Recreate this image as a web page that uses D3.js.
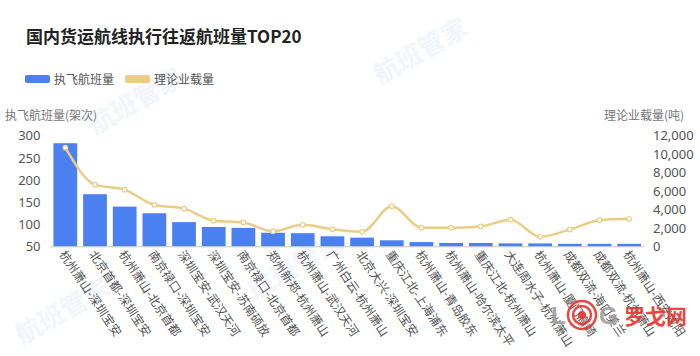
<!DOCTYPE html>
<html><head><meta charset="utf-8">
<script src="https://cdn.jsdelivr.net/npm/d3@7"></script>
<style>
html,body{margin:0;padding:0;background:#fff;}
svg{display:block;font-family:"Noto Sans CJK SC","Noto Sans",sans-serif;}
</style></head>
<body>
<svg id="c" width="700" height="356"></svg>
<script>
const categories = ["杭州萧山-深圳宝安","北京首都-深圳宝安","杭州萧山-北京首都","南京禄口-深圳宝安","深圳宝安-武汉天河","深圳宝安-苏南硕放","南京禄口-北京首都","郑州新郑-杭州萧山","杭州萧山-武汉天河","广州白云-杭州萧山","北京大兴-深圳宝安","重庆江北-上海浦东","杭州萧山-青岛胶东","杭州萧山-哈尔滨太平","重庆江北-杭州萧山","大连周水子-杭州萧山","杭州萧山-厦门高崎","成都双流-海口美兰","成都双流-杭州萧山","杭州萧山-西安咸阳"];
const flights = [283,168,140,125,105,94,92,81,80,73,70,64,60,58,58,57,57,56,56,56];
const tonnage = [10700,6700,6150,4500,4100,2800,2600,1650,2350,1880,1600,4370,2030,2030,2170,2900,1050,1840,2850,3000];
const leftTicks = [50,100,150,200,250,300];
const rightTicks = [0,2000,4000,6000,8000,10000,12000];
const seriesNames = ["执飞航班量","理论业载量"];
const title = "国内货运航线执行往返航班量TOP20";

const svg = d3.select("#c");
const barColor = "#4a80f0", lineColor = "#ebcd86";

// faint watermarks
const wm = [[95,135],[22,345],[255,300],[380,85]];
wm.forEach(([x,y])=>{
  svg.append("text").attr("transform",`translate(${x},${y}) rotate(-30)`)
    .attr("font-size",26).attr("font-weight","bold").attr("fill","#f2f5fb").text("航班管家");
});

const x = d3.scaleBand().domain(categories).range([50.5,644]).paddingInner(0.2).paddingOuter(0.1);
const yL = d3.scaleLinear().domain([50,300]).range([246.5,135.7]);
const yR = d3.scaleLinear().domain([0,12000]).range([246.5,135.7]);

// title
svg.append("text").attr("x",26).attr("y",43).attr("font-size",17).attr("font-weight","bold")
  .attr("fill","#222").text(title);

// legend
const lg = [[25,barColor,seriesNames[0]],[125,lineColor,seriesNames[1]]];
lg.forEach(([lx,col,name])=>{
  svg.append("rect").attr("x",lx).attr("y",75).attr("width",25).attr("height",8).attr("rx",2).attr("fill",col);
  svg.append("text").attr("x",lx+29).attr("y",83.5).attr("font-size",12).attr("fill","#555").text(name);
});

// axis names
svg.append("text").attr("x",5).attr("y",119.5).attr("font-size",12).attr("fill","#777").text("执飞航班量(架次)");
svg.append("text").attr("x",604).attr("y",119.5).attr("font-size",12).attr("fill","#777").text("理论业载量(吨)");

// left axis
const gL = svg.append("g").attr("transform","translate(50.5,0)")
  .call(d3.axisLeft(yL).tickValues(leftTicks).tickSize(0).tickPadding(10));
gL.select(".domain").remove();
gL.selectAll("text").attr("font-size",13).attr("fill","#555").attr("font-family","'Noto Sans',sans-serif").attr("x",-10);

// right axis
const gR = svg.append("g").attr("transform","translate(644,0)")
  .call(d3.axisRight(yR).tickValues(rightTicks).tickSize(0).tickPadding(9).tickFormat(d3.format(",")));
gR.select(".domain").remove();
gR.selectAll("text").attr("font-size",13).attr("fill","#555").attr("font-family","'Noto Sans',sans-serif");

// bars
svg.append("g").selectAll("rect").data(flights).join("rect")
  .attr("x",(d,i)=>x(categories[i])).attr("width",x.bandwidth())
  .attr("y",d=>yL(d)).attr("height",d=>yL(50)-yL(d)).attr("fill",barColor);

// bottom axis line
svg.append("line").attr("x1",50.5).attr("x2",644).attr("y1",246.8).attr("y2",246.8).attr("stroke","#c8c8c8").attr("stroke-width",1);

// x labels
svg.append("g").selectAll("text").data(categories).join("text")
  .attr("transform",d=>`translate(${x(d)+x.bandwidth()/2-3},${252}) rotate(56)`)
  .attr("font-size",12).attr("fill","#555").attr("dy","0.35em").text(d=>d);

// line
const line = d3.line().x((d,i)=>x(categories[i])+x.bandwidth()/2).y(d=>yR(d)).curve(d3.curveMonotoneX);
svg.append("path").datum(tonnage).attr("d",line).attr("fill","none").attr("stroke",lineColor).attr("stroke-width",2.5);
svg.append("g").selectAll("circle").data(tonnage).join("circle")
  .attr("cx",(d,i)=>x(categories[i])+x.bandwidth()/2).attr("cy",d=>yR(d)).attr("r",2.3)
  .attr("fill","#fff").attr("stroke",lineColor).attr("stroke-width",1.2);

// logo
const lgG = svg.append("g").attr("opacity",0.9);
lgG.append("text").attr("x",551).attr("y",324).attr("font-size",24).attr("font-weight","bold").attr("fill","#a0a0a0").attr("font-family","'Liberation Sans',sans-serif").text("L");
[14,9].forEach((r,i)=>lgG.append("circle").attr("cx",582).attr("cy",315).attr("r",r).attr("fill","none").attr("stroke","#e8332e").attr("stroke-width",2.5));
lgG.append("circle").attr("cx",582).attr("cy",315).attr("r",4).attr("fill","#e8332e");
lgG.append("text").attr("x",599).attr("y",324).attr("font-size",24).attr("font-weight","bold").attr("fill","#a0a0a0").attr("font-family","'Liberation Sans',sans-serif").text("G");
lgG.append("text").attr("x",624).attr("y",324).attr("font-size",21).attr("font-weight","bold").attr("fill","#e8332e").text("罗戈网");
</script>
</body></html>
